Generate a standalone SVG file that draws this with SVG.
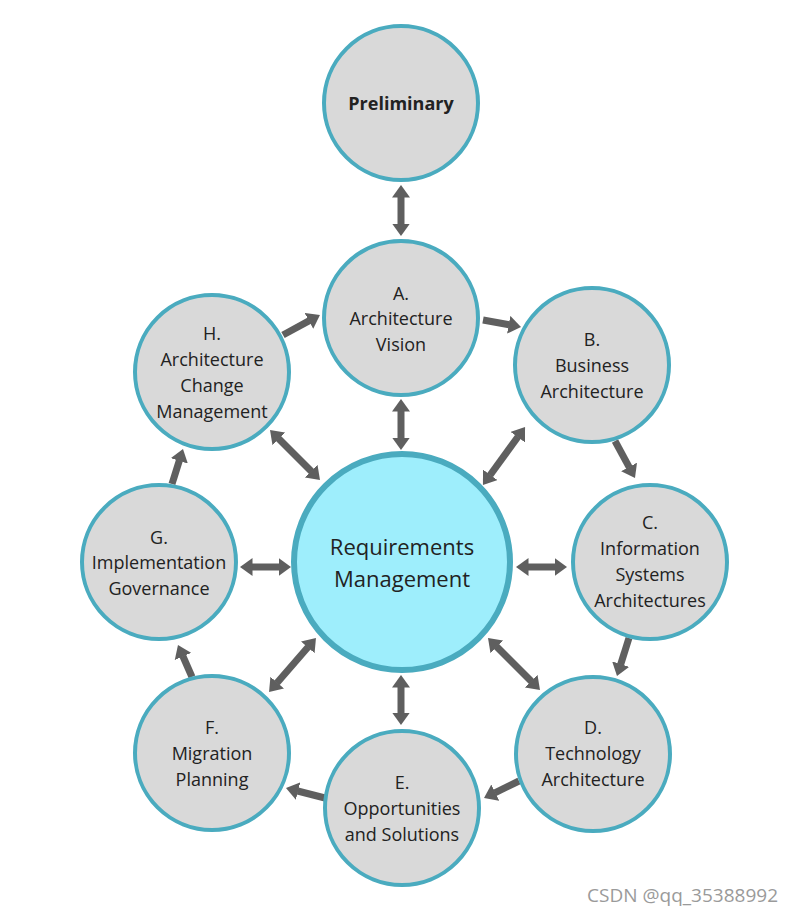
<svg xmlns="http://www.w3.org/2000/svg" width="793" height="917" viewBox="0 0 793 917">
<style>
.n{fill:#d9d9d9;stroke:#4aabbf;stroke-width:4}
.c{fill:#9eeefc;stroke:#4aabbf;stroke-width:6}
.t{font-family:"Open Sans","Liberation Sans",sans-serif;font-size:18px;fill:#222;text-anchor:middle;dominant-baseline:central}
.big{font-size:22px}
.a{stroke:#5f5f5f;stroke-width:7;fill:none}
.s{marker-end:url(#h)}
.d{marker-start:url(#h);marker-end:url(#h)}
</style>
<defs>
<marker id="h" markerUnits="userSpaceOnUse" markerWidth="13" markerHeight="18" viewBox="0 0 13 18" refX="0.5" refY="9" orient="auto-start-reverse">
<path d="M0,0 L12.5,9 L0,18 Z" fill="#5f5f5f"/>
</marker>
</defs>
<rect width="793" height="917" fill="#fff"/>
<g id="connectors">
<line class="a d" x1="401" y1="197" x2="401" y2="224"/>
<line class="a s" x1="483" y1="320" x2="509.2" y2="324.8"/>
<line class="a s" x1="615" y1="441" x2="629.3" y2="467.4"/>
<line class="a s" x1="629" y1="638" x2="620.6" y2="664.6"/>
<line class="a s" x1="519" y1="781" x2="494.8" y2="792.8"/>
<line class="a s" x1="325" y1="798" x2="297.6" y2="791"/>
<line class="a s" x1="192" y1="677" x2="182.8" y2="656"/>
<line class="a s" x1="172" y1="484" x2="179.4" y2="460.4"/>
<line class="a s" x1="283" y1="335" x2="309.4" y2="320.7"/>
<line class="a d" x1="401" y1="411" x2="401" y2="438"/>
<line class="a d" x1="518" y1="436.7" x2="490" y2="475.3"/>
<line class="a d" x1="528" y1="567" x2="555" y2="567"/>
<line class="a d" x1="496.5" y1="646.5" x2="531.5" y2="681.5"/>
<line class="a d" x1="401" y1="687" x2="401" y2="713"/>
<line class="a d" x1="276.9" y1="683" x2="308.1" y2="647"/>
<line class="a d" x1="252" y1="567" x2="279" y2="567"/>
<line class="a d" x1="278.5" y1="438.5" x2="311.5" y2="471.5"/>
</g>
<g id="preliminary">
<circle class="n" cx="401" cy="103" r="77"/>
<text class="t" x="401" y="103" font-weight="bold">Preliminary</text>
</g>
<g id="A">
<circle class="n" cx="401" cy="318" r="77"/>
<text class="t" x="401" y="293">A.</text>
<text class="t" x="401" y="318">Architecture</text>
<text class="t" x="401" y="344">Vision</text>
</g>
<g id="B">
<circle class="n" cx="592" cy="365" r="77"/>
<text class="t" x="592" y="339">B.</text>
<text class="t" x="592" y="365">Business</text>
<text class="t" x="592" y="391">Architecture</text>
</g>
<g id="C">
<circle class="n" cx="650" cy="562" r="77"/>
<text class="t" x="650" y="522">C.</text>
<text class="t" x="650" y="548">Information</text>
<text class="t" x="650" y="574">Systems</text>
<text class="t" x="650" y="600">Architectures</text>
</g>
<g id="D">
<circle class="n" cx="593" cy="754" r="77"/>
<text class="t" x="593" y="727">D.</text>
<text class="t" x="593" y="753">Technology</text>
<text class="t" x="593" y="779">Architecture</text>
</g>
<g id="E">
<circle class="n" cx="402" cy="808" r="77"/>
<text class="t" x="402" y="782">E.</text>
<text class="t" x="402" y="808">Opportunities</text>
<text class="t" x="402" y="834">and Solutions</text>
</g>
<g id="F">
<circle class="n" cx="212" cy="753" r="77"/>
<text class="t" x="212" y="727">F.</text>
<text class="t" x="212" y="753">Migration</text>
<text class="t" x="212" y="779">Planning</text>
</g>
<g id="G">
<circle class="n" cx="159" cy="562" r="77"/>
<text class="t" x="159" y="537">G.</text>
<text class="t" x="159" y="562">Implementation</text>
<text class="t" x="159" y="588">Governance</text>
</g>
<g id="H">
<circle class="n" cx="212" cy="372" r="77"/>
<text class="t" x="212" y="333">H.</text>
<text class="t" x="212" y="359">Architecture</text>
<text class="t" x="212" y="385">Change</text>
<text class="t" x="212" y="411">Management</text>
</g>
<g id="center">
<circle class="c" cx="402" cy="562" r="108"/>
<text class="t big" x="402" y="546">Requirements</text>
<text class="t big" x="402" y="578">Management</text>
</g>
<text x="778" y="895" font-family="'Open Sans','Liberation Sans',sans-serif" font-size="19" fill="#9a9a9a" text-anchor="end" dominant-baseline="central">CSDN @qq_35388992</text>
</svg>
